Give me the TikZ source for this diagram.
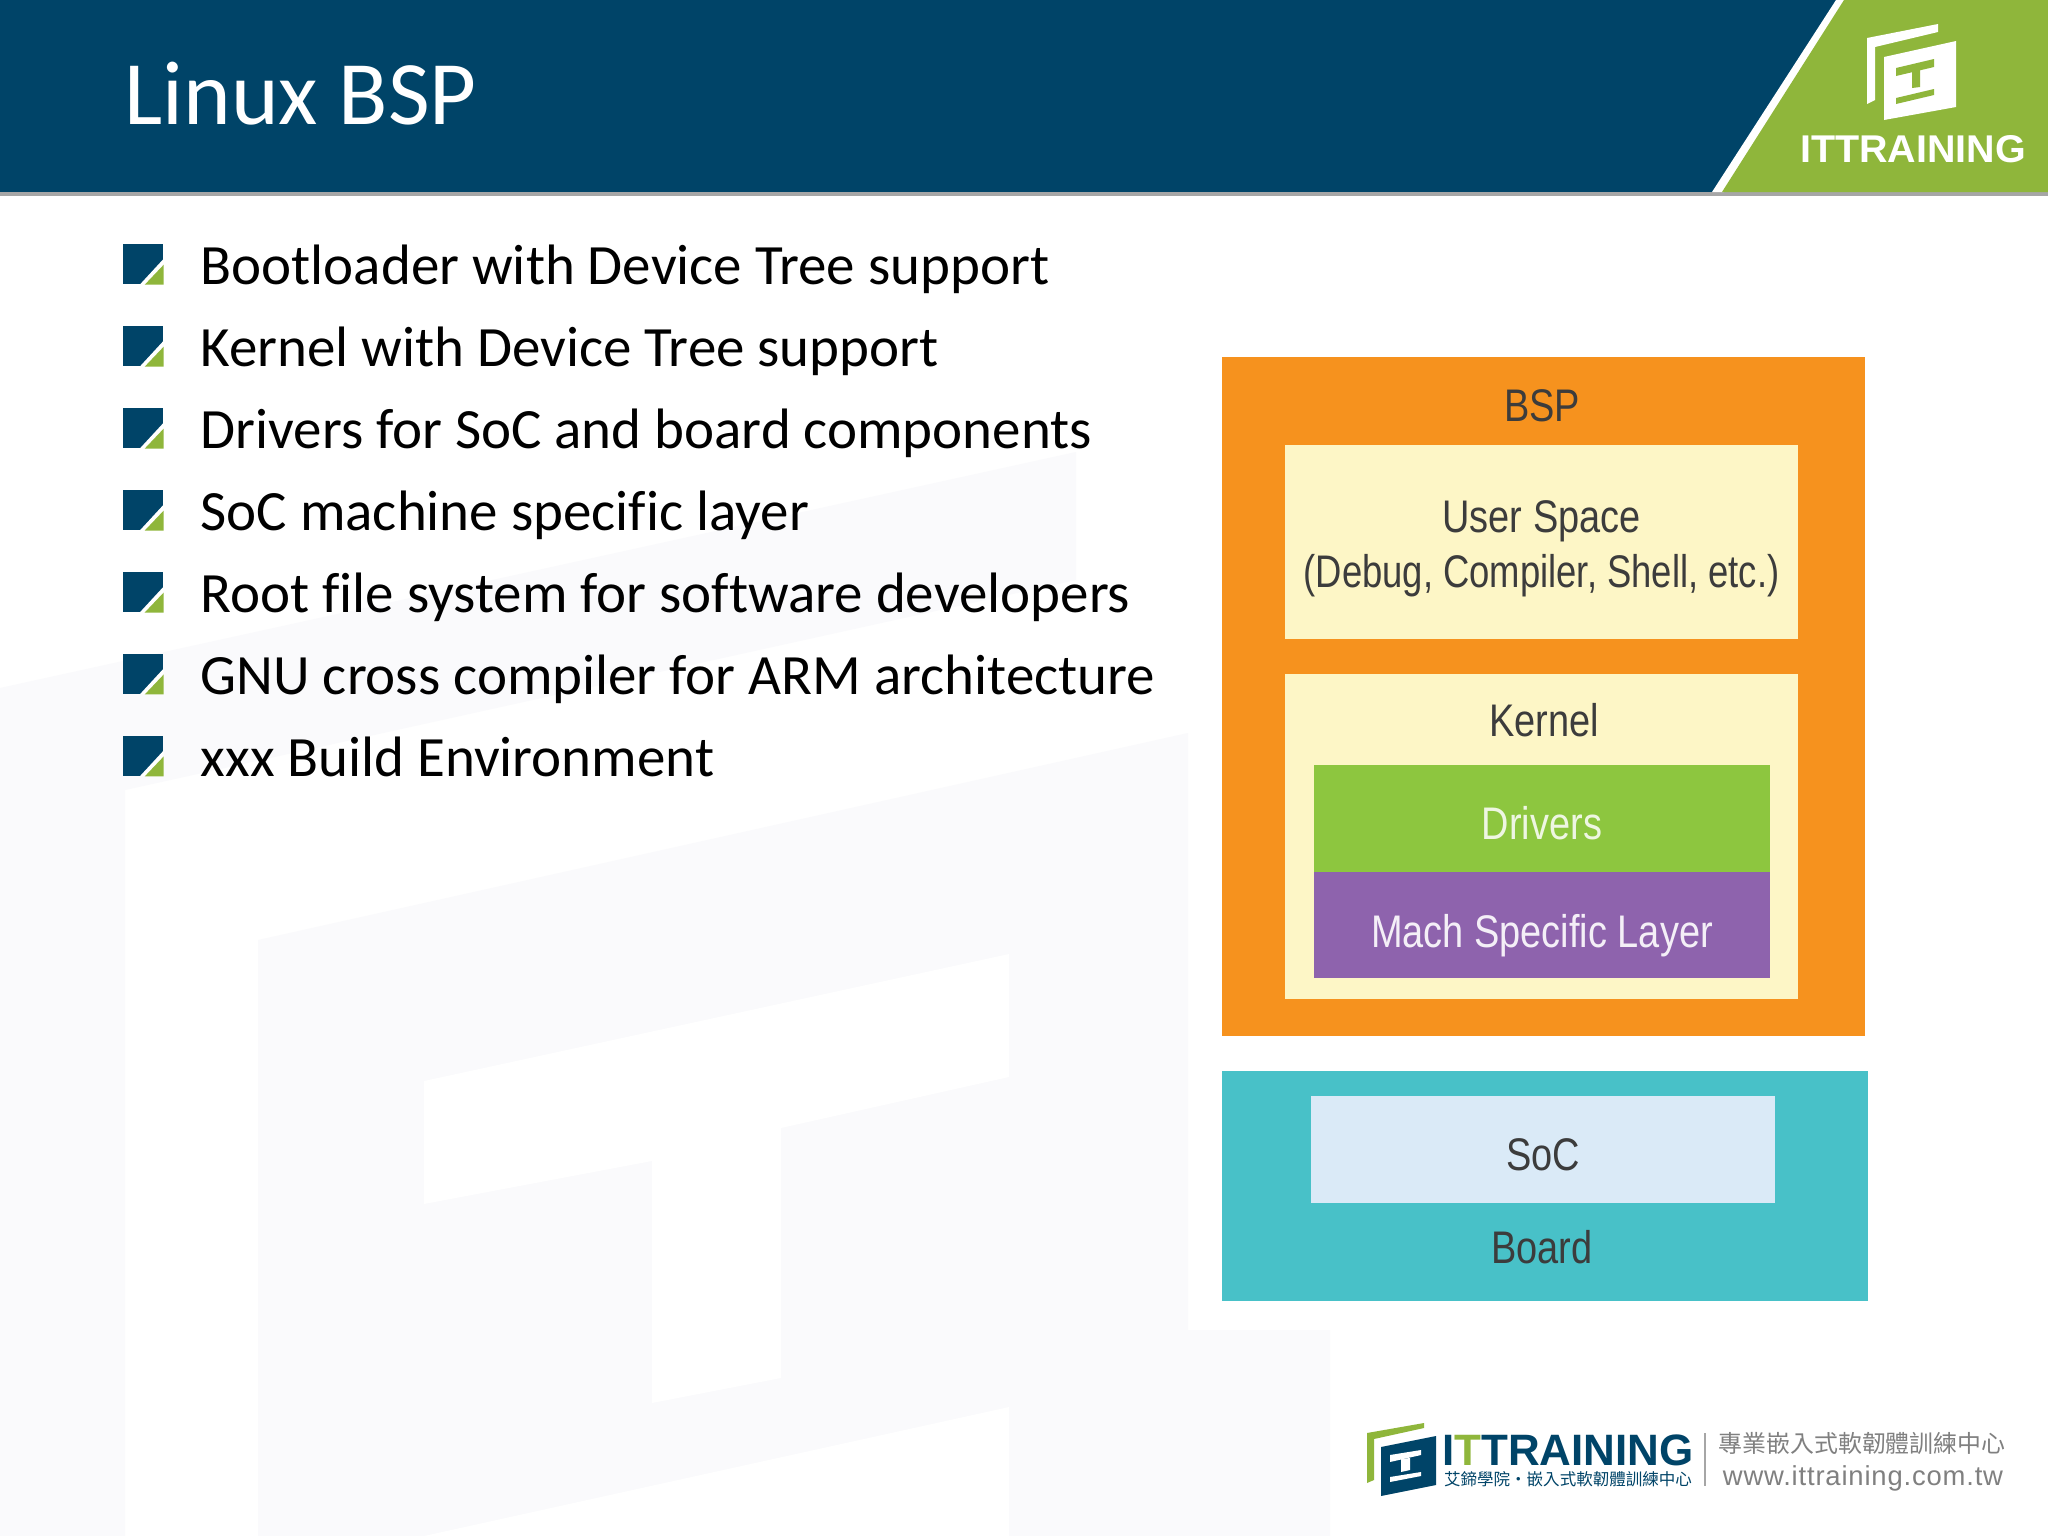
\documentclass[tikz,border=0pt]{standalone}
\usepackage{fontspec}
\setmainfont[Ligatures=NoCommon]{Carlito}
\newfontfamily\boxfont{Liberation Sans}
\newfontfamily\urlfont[LetterSpace=3]{Liberation Sans}
\newfontfamily\cjkfont{Noto Sans CJK TC}
\definecolor{headblue}{HTML}{004468}
\definecolor{headgreen}{HTML}{8FB63B}
\definecolor{bspfill}{HTML}{F6921E}
\definecolor{creamfill}{HTML}{FDF6C6}
\definecolor{drvfill}{HTML}{8DC63F}
\definecolor{machfill}{HTML}{8E63AD}
\definecolor{boardfill}{HTML}{48C1C8}
\definecolor{socfill}{HTML}{DAEAF7}
\definecolor{markfaint}{HTML}{FAFAFC}
\definecolor{boxtext}{HTML}{3C3C3C}
\begin{document}
\begin{tikzpicture}[x=0.01cm,y=-0.01cm]
        \tikzstyle{layer}=[rectangle, inner sep=0pt, align=center, font=\boxfont\fontsize{13}{15.6}\selectfont, text=boxtext, xscale=0.83]
        \tikzstyle{tag}=[inner sep=0pt, font=\boxfont\fontsize{13}{15.6}\selectfont, text=boxtext, xscale=0.83]
        \tikzstyle{item}=[anchor=base west, inner sep=0pt, font=\fontsize{16.2}{19}\selectfont, text=black]
        \tikzstyle{bullet}=[rectangle, fill=headblue, inner sep=0pt, minimum size=0.4cm]
        \tikzstyle{brand}=[inner sep=0pt, font=\boxfont\bfseries]

        \useasboundingbox (0,0) rectangle (2048,1536);
        \fill[white] (0,0) rectangle (2048,1536);

        \fill[markfaint] (0,688) -- (1076,452) -- (1076,580) -- (125,790) -- (125,1536) -- (0,1536) -- cycle;
        \fill[markfaint] (258,940) -- (1188,733) -- (1188,1330) -- (1330,1330) -- (1330,1536) -- (258,1536) -- cycle;
        \fill[white] (424,1081) -- (1009,954) -- (1009,1077) -- (781,1128) -- (781,1378) -- (652,1403) -- (652,1161) -- (424,1204) -- cycle;
        \fill[white] (424,1536) -- (1009,1407) -- (1009,1536) -- cycle;

        \fill[gray!70] (0,191) rectangle (2048,196);
        \fill[headblue] (0,0) rectangle (1842,192);
        \fill[white] (1836,0) -- (1846,0) -- (1724,192) -- (1712,192) -- cycle;
        \fill[headgreen] (1844,0) -- (2048,0) -- (2048,192) -- (1722,192) -- cycle;

        \node[anchor=base west, inner sep=0pt, font=\fontsize{25.8}{30}\selectfont, text=white] (title) at (124,124.5) {Linux BSP};

        \fill[white] (1867,38) -- (1938,24) -- (1938,32) -- (1875,47) -- (1875,100) -- (1867,104) -- cycle;
        \fill[white] (1884,57) -- (1956,41) -- (1956,107) -- (1884,120) -- cycle;
        \fill[headgreen] (1896,68) -- (1934,59) -- (1934,67) -- (1896,76) -- cycle;
        \fill[headgreen] (1912,71) -- (1920,69) -- (1920,87) -- (1912,88) -- cycle;
        \fill[headgreen] (1896,98) -- (1934,89) -- (1934,95) -- (1896,104) -- cycle;
        \node[brand, text=white, xscale=1.02, font=\boxfont\bfseries\fontsize{11}{12}\selectfont] (toplogo) at (1913,149) {ITTRAINING};

        \foreach \idx/\txt in {0/Bootloader with Device Tree support, 1/Kernel with Device Tree support, 2/Drivers for SoC and board components, 3/SoC machine specific layer, 4/Root file system for software developers, 5/GNU cross compiler for ARM architecture, 6/xxx Build Environment} {
            \node[item] (item\idx) at (200,284.5+81.95*\idx) {\txt};
            \node[bullet] (mark\idx) at (143,264+81.95*\idx) {};
            \fill[white] ([yshift=0.26cm]mark\idx.south east) -- (mark\idx.south east) -- ([xshift=-0.24cm]mark\idx.south east) -- cycle;
            \fill[headgreen] ([yshift=0.2cm]mark\idx.south east) -- (mark\idx.south east) -- ([xshift=-0.19cm]mark\idx.south east) -- cycle;
        }

        \node[rectangle, fill=bspfill, minimum width=6.43cm, minimum height=6.79cm, inner sep=0pt] (bsp) at (1543.5,696.5) {};
        \node[rectangle, fill=creamfill, minimum width=5.13cm, minimum height=1.94cm, inner sep=0pt] (user) at (1541.5,542) {};
        \node[layer, yshift=-0.07cm] (usertext) at (user) {User Space\\\scalebox{0.96}[1]{(Debug, Compiler, Shell, etc.)}};
        \node[rectangle, fill=creamfill, minimum width=5.13cm, minimum height=3.25cm, inner sep=0pt] (kernel) at (1541.5,836.5) {};
        \node[rectangle, fill=drvfill, minimum width=4.56cm, minimum height=1.07cm, inner sep=0pt] (drivers) at (1542,818.5) {};
        \node[layer, yshift=-0.05cm, text=white!85!drvfill] (driverstext) at (drivers) {Drivers};
        \node[rectangle, fill=machfill, minimum width=4.56cm, minimum height=1.06cm, inner sep=0pt] (mach) at (1542,925) {};
        \node[layer, yshift=-0.11cm, text=white!90!machfill] (machtext) at (mach) {Mach Specific Layer};
        \node[rectangle, fill=boardfill, minimum width=6.46cm, minimum height=2.30cm, inner sep=0pt] (board) at (1545,1186) {};
        \node[rectangle, fill=socfill, minimum width=4.64cm, minimum height=1.07cm, inner sep=0pt] (soc) at (1543,1149.5) {};
        \node[layer, yshift=-0.05cm] (soctext) at (soc) {SoC};

        \node[tag] (bsptag) at (1542,406) {BSP};
        \node[tag] (kerneltag) at (1544,720) {Kernel};
        \node[tag] (boardtag) at (1542,1247) {Board};

        \fill[headgreen] (1367,1433) -- (1424,1423) -- (1424,1428) -- (1374,1439) -- (1374,1480) -- (1367,1483) -- cycle;
        \fill[headblue] (1381,1447) -- (1436,1436) -- (1436,1485) -- (1381,1496) -- cycle;
        \fill[white] (1390,1455) -- (1421,1450) -- (1421,1455) -- (1390,1462) -- cycle;
        \fill[white] (1401,1459) -- (1410,1458) -- (1410,1470) -- (1401,1472) -- cycle;
        \fill[white] (1390,1477) -- (1421,1472) -- (1421,1476) -- (1390,1482) -- cycle;
        \node[brand, text=headblue, font=\boxfont\bfseries\fontsize{12.5}{14}\selectfont] (footlogo) at (1568,1450) {I\textcolor{headgreen}{T}TRAINING};
        \node[inner sep=0pt, text=headblue, font=\cjkfont\fontsize{4.7}{5}\selectfont] (footsub) at (1568,1479) {艾鍗學院‧嵌入式軟韌體訓練中心};
        \coordinate (rulea) at (1705,1433);
        \coordinate (ruleb) at (1705,1486);
        \draw[gray!70, line width=0.4pt] (rulea) -- (ruleb);
        \node[inner sep=0pt, text=gray, font=\cjkfont\fontsize{6.8}{8}\selectfont] (footcn) at (1862,1443) {專業嵌入式軟韌體訓練中心};
        \node[inner sep=0pt, text=gray, font=\urlfont\fontsize{7.8}{9}\selectfont] (footurl) at (1863,1478) {www.ittraining.com.tw};
\end{tikzpicture}
\end{document}
